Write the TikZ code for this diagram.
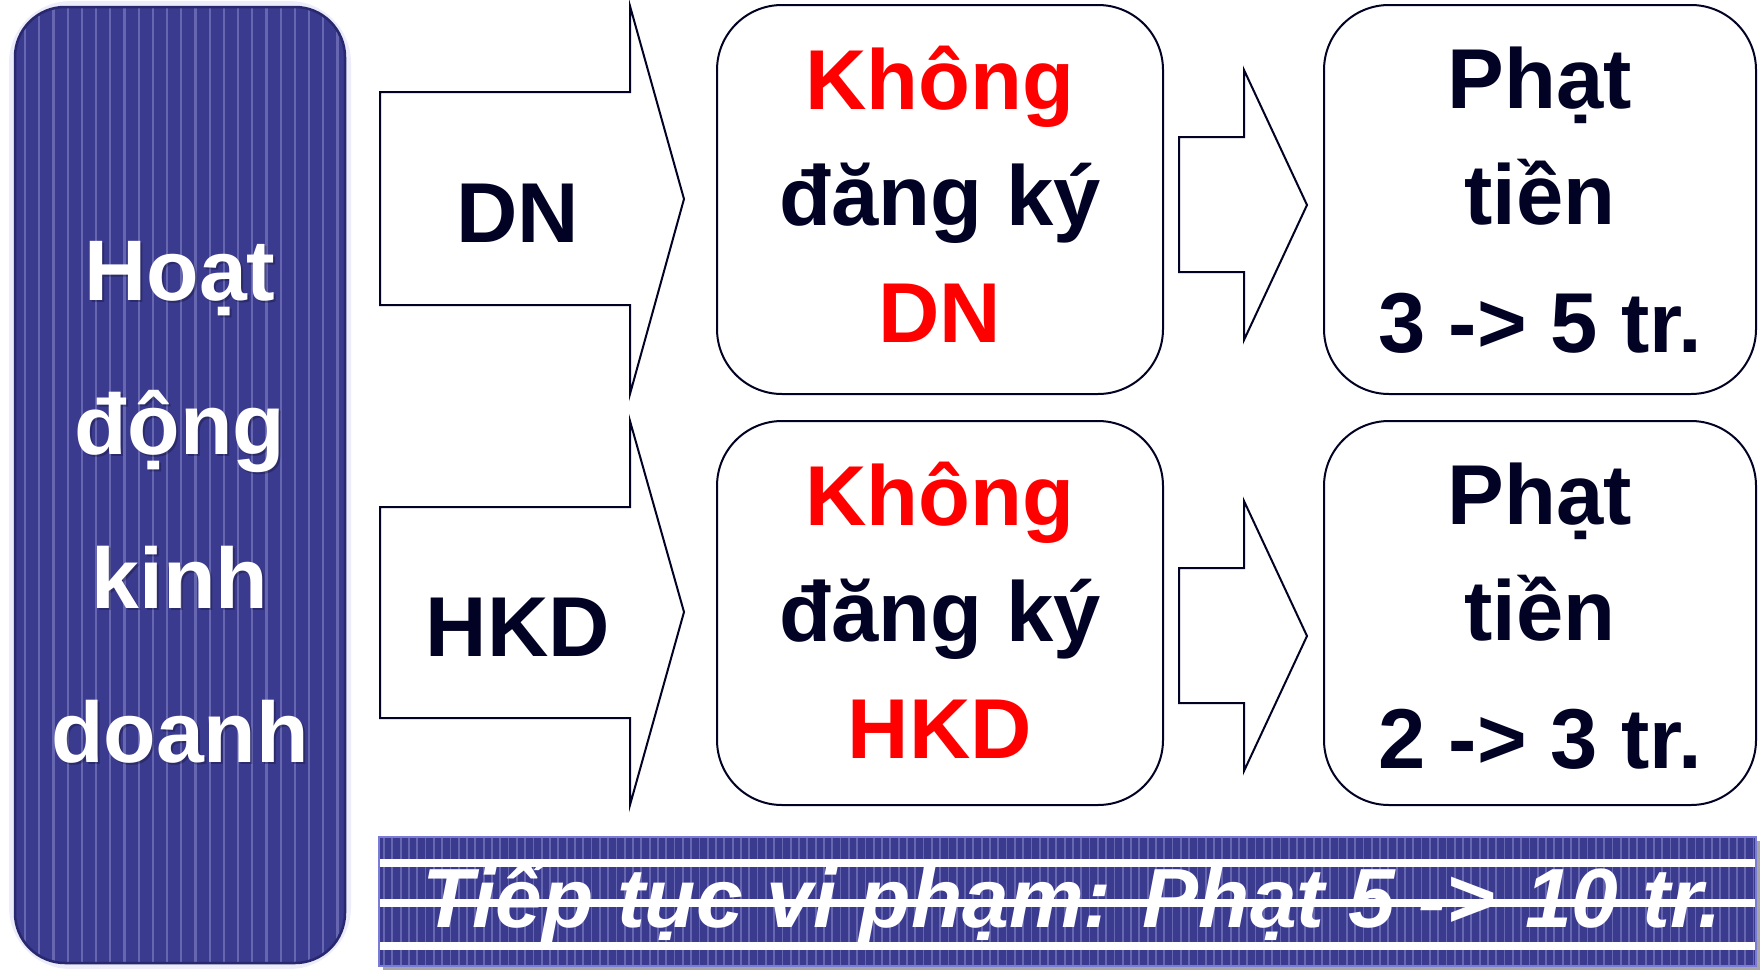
\documentclass[tikz,border=0pt]{standalone}
\usepackage{fontspec}
\setmainfont{Liberation Sans}
\usetikzlibrary{calc}
\definecolor{navy}{RGB}{58,58,142}
\definecolor{navyedge}{RGB}{40,40,110}
\definecolor{stripe}{RGB}{118,118,190}
\definecolor{ink}{RGB}{2,2,36}
\definecolor{halo}{RGB}{236,236,250}
\definecolor{banneredge}{RGB}{122,122,215}
\definecolor{hotred}{RGB}{255,0,0}
\begin{document}
\begin{tikzpicture}[x=1pt,y=-1pt,
  bigtext/.style={font=\bfseries\fontsize{85}{116.5}\selectfont, align=center, anchor=base, inner sep=0pt},
  blockarrow/.style={draw=ink, line width=2pt, fill=white, line join=miter},
  roundbox/.style={draw=ink, line width=2pt, fill=white, rounded corners=65pt, inner sep=0pt}
]
\useasboundingbox (0,0) rectangle (1764,969);
\fill[white] (0,0) rectangle (1764,969);

% ---------- left box ----------
\draw[halo, line width=12pt, rounded corners=56pt] (15,7) rectangle (345,963);
\node[fill=navy, rounded corners=50pt, minimum width=330pt, minimum height=956pt, inner sep=0pt] (left) at (180,485) {};
\begin{scope}
  \clip[rounded corners=50pt] (16,8) rectangle (344,962);
  \foreach \x in {25,39.2,...,345} \draw[stripe, line width=2.2pt, opacity=.75] (\x,0) -- (\x,969);
\end{scope}
\draw[navyedge, line width=2.5pt, rounded corners=50pt] (15,7) rectangle (345,963);
% base anchor of a multi-line node = baseline of its last line
\node[bigtext, font=\bfseries\fontsize{86}{154}\selectfont, black, opacity=.25] (leftshadow) at (182,764) {Hoạt\\động\\kinh\\doanh};
\node[bigtext, font=\bfseries\fontsize{86}{154}\selectfont, white] (lefttext) at (180,762) {Hoạt\\động\\kinh\\doanh};

% ---------- big arrows ----------
\draw[blockarrow] (380,92) -- (630,92) -- (630,6) -- (684,199) -- (630,394) -- (630,305) -- (380,305) -- cycle;
\node[bigtext, text=ink] (dn) at (518,242) {DN};
\draw[blockarrow] (380,507) -- (630,507) -- (630,421) -- (684,612) -- (630,805) -- (630,718) -- (380,718) -- cycle;
\node[bigtext, text=ink] (hkd) at (518,656) {HKD};

% ---------- middle boxes ----------
\node[roundbox, minimum width=446pt, minimum height=389pt] (box1) at (940,199.5) {};
\node[bigtext] (box1text) at (940,342) {\textcolor{hotred}{Không}\\\textcolor{ink}{đăng ký}\\\textcolor{hotred}{DN}};
\node[roundbox, minimum width=446pt, minimum height=384pt] (box2) at (940,613) {};
\node[bigtext] (box2text) at (940,758) {\textcolor{hotred}{Không}\\\textcolor{ink}{đăng ký}\\\textcolor{hotred}{HKD}};

% ---------- small arrows ----------
\draw[blockarrow] (1179,137) -- (1244,137) -- (1244,70) -- (1307,205) -- (1244,340) -- (1244,272) -- (1179,272) -- cycle;
\draw[blockarrow] (1179,568) -- (1244,568) -- (1244,501) -- (1307,636) -- (1244,771) -- (1244,703) -- (1179,703) -- cycle;

% ---------- right boxes ----------
\node[roundbox, minimum width=432pt, minimum height=389pt] (box3) at (1540,199.5) {};
\node[bigtext, text=ink] (box3text) at (1540,352) {Phạt\\tiền\\[11pt]3 -> 5 tr.};
\node[roundbox, minimum width=432pt, minimum height=384pt] (box4) at (1540,613) {};
\node[bigtext, text=ink] (box4text) at (1540,768) {Phạt\\tiền\\[11pt]2 -> 3 tr.};

% ---------- banner ----------
\fill[black!35] (383,841) rectangle (1760,970);
\node[fill=navy, minimum width=1377pt, minimum height=129pt, inner sep=0pt] (banner) at (1067.5,901.5) {};
\begin{scope}
  \clip (379,837) rectangle (1756,966);
  \foreach \x in {384,392.3,...,1760} \draw[stripe, line width=1.8pt, opacity=.75] (\x,837) -- (\x,966);
  \fill[white] (379,859) rectangle (1756,867);
  \fill[white] (379,899) rectangle (1756,907);
  \fill[white] (379,942) rectangle (1756,950);
\end{scope}
\draw[banneredge, line width=2pt] (379,837) rectangle (1756,966);
\node[white, font=\bfseries\itshape\fontsize{84}{100}\selectfont, anchor=base, inner sep=0pt] (bannertext) at (1072,927) {Tiếp tục vi phạm: Phạt 5 ->\hspace{30pt}10 tr.};
\end{tikzpicture}
\end{document}
